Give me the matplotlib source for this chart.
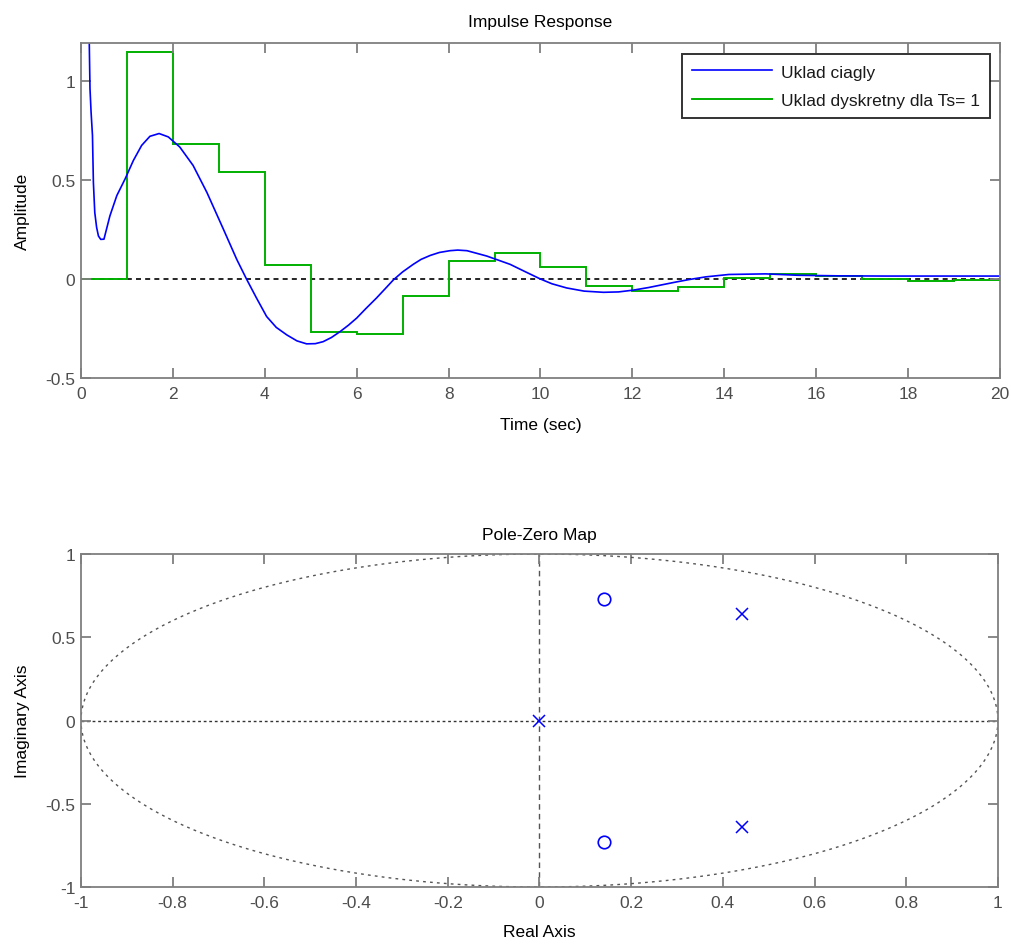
import numpy as np
import matplotlib
matplotlib.use("Agg")
import matplotlib.pyplot as plt
from matplotlib.ticker import FormatStrFormatter

plt.rcParams['font.family'] = ['Liberation Sans', 'DejaVu Sans']

# Continuous impulse response
t_cont = [0.0, 0.08, 0.15, 0.18, 0.196, 0.22, 0.25, 0.27, 0.30, 0.34, 0.38, 0.43, 0.50,
          0.63, 0.78, 0.96, 1.14, 1.32, 1.50, 1.70, 1.90, 2.15, 2.44, 2.74, 3.10, 3.39,
          3.60, 3.82, 4.04, 4.25, 4.48, 4.70, 4.91, 5.10, 5.27, 5.45, 5.64, 5.82, 6.00,
          6.20, 6.43, 6.62, 6.80, 7.00, 7.23, 7.40, 7.60, 7.80, 8.03, 8.20, 8.40, 8.64,
          8.83, 9.05, 9.34, 9.65, 9.99, 10.25, 10.57, 10.95, 11.37, 11.70, 12.02, 12.35,
          12.67, 12.95, 13.25, 13.60, 14.10, 14.90, 15.60, 16.50, 17.50, 18.50, 20.00]
y_cont = [2.60, 1.80, 1.35, 1.198, 0.96, 0.84, 0.724, 0.487, 0.335, 0.26, 0.216, 0.199, 0.20,
          0.318, 0.42, 0.504, 0.597, 0.673, 0.719, 0.733, 0.716, 0.665, 0.572, 0.436, 0.25, 0.098,
          0.0, -0.097, -0.19, -0.245, -0.283, -0.313, -0.328, -0.327, -0.317, -0.296, -0.266, -0.234, -0.198,
          -0.15, -0.097, -0.05, -0.005, 0.035, 0.073, 0.098, 0.118, 0.133, 0.142, 0.145, 0.142, 0.127,
          0.115, 0.097, 0.073, 0.038, 0.0, -0.025, -0.046, -0.062, -0.068, -0.066, -0.057, -0.044,
          -0.029, -0.016, -0.003, 0.01, 0.022, 0.025, 0.018, 0.015, 0.014, 0.014, 0.014]

# Discrete impulse response, Ts = 1 (stairs)
k_edges = list(range(0, 21))
y_disc = [0, 1.144, 0.682, 0.538, 0.068, -0.269, -0.277, -0.085, 0.092, 0.132,
          0.058, -0.034, -0.059, -0.042, 0.002, 0.022, 0.014, 0.0, -0.01, -0.008]

# Pole-zero map
zeros_re = [0.141, 0.141]
zeros_im = [0.732, -0.728]
poles_re = [0.441, 0.441, 0.0]
poles_im = [0.642, -0.637, 0.0]

legend_labels = ['Uklad ciagly', 'Uklad dyskretny dla Ts= 1']
pz_xticks = [-1, -0.8, -0.6, -0.4, -0.2, 0, 0.2, 0.4, 0.6, 0.8, 1]

FS = 12.5
fig = plt.figure(figsize=(10.11, 9.45), dpi=100)
ax1 = fig.add_axes([0.0801, 0.599, 0.909, 0.3545])
ax2 = fig.add_axes([0.0801, 0.0603, 0.907, 0.3524])

spine_c = '#7f7f7f'
tick_c = '#4d4d4d'

def style(ax):
    for s in ax.spines.values():
        s.set_color(spine_c)
        s.set_linewidth(1.3)
    ax.tick_params(direction='in', length=7, width=1.3, color=spine_c,
                   labelcolor=tick_c, labelsize=FS, top=True, right=True, pad=4)
    ax.tick_params(axis='x', pad=6)

# Top plot
ax1.plot(t_cont, y_cont, color='#0000ff', lw=1.2, label=legend_labels[0])
ax1.stairs(y_disc, k_edges, color='#00b000', lw=1.4, baseline=None, label=legend_labels[1])
ax1.axhline(0, color='black', ls=(0, (3, 2.5)), lw=1.2, zorder=0.5)
ax1.set_xlim(0, 20)
ax1.set_ylim(-0.5, 1.19)
ax1.set_xticks(range(0, 21, 2))
ax1.set_yticks([-0.5, 0, 0.5, 1])
ax1.yaxis.set_major_formatter(FormatStrFormatter('%g'))
style(ax1)
ax1.set_title('Impulse Response', fontsize=FS, pad=12)
ax1.set_xlabel('Time (sec)', fontsize=FS, labelpad=11)
ax1.set_ylabel('Amplitude', fontsize=FS, labelpad=11)
leg = ax1.legend(loc='upper right', fontsize=FS, frameon=True, fancybox=False,
                 edgecolor='black', borderpad=0.6, handlelength=4.6, handletextpad=0.5,
                 labelspacing=0.75, borderaxespad=0.0, bbox_to_anchor=(0.9895, 0.967))
leg.get_frame().set_linewidth(1.4)
for txt in leg.get_texts():
    txt.set_color('#1a1a1a')

# Bottom plot
theta = np.linspace(0, 2 * np.pi, 400)
ax2.plot(np.cos(theta), np.sin(theta), color='#555555', ls=(0, (2, 3)), lw=1.0)
ax2.axvline(0, color='#555555', ls=(0, (4, 3)), lw=1.0, zorder=0.5)
ax2.axhline(0, color='#333333', ls=(0, (2, 2)), lw=1.0, zorder=0.5)
ax2.plot(zeros_re, zeros_im, ls='none', marker='o', ms=9, mfc='none', mec='#0000ff', mew=1.2)
ax2.plot(poles_re, poles_im, ls='none', marker='x', ms=9, color='#0000ff', mew=1.1)
ax2.set_xlim(-1, 1)
ax2.set_ylim(-1, 1)
ax2.set_xticks(pz_xticks)
ax2.set_xticklabels([f'{v:g}' for v in pz_xticks])
ax2.set_yticks([-1, -0.5, 0, 0.5, 1])
ax2.yaxis.set_major_formatter(FormatStrFormatter('%g'))
style(ax2)
ax2.set_title('Pole-Zero Map', fontsize=FS, pad=11)
ax2.set_xlabel('Real Axis', fontsize=FS, labelpad=10)
ax2.set_ylabel('Imaginary Axis', fontsize=FS, labelpad=11)

fig.savefig('out.png', dpi=100)
